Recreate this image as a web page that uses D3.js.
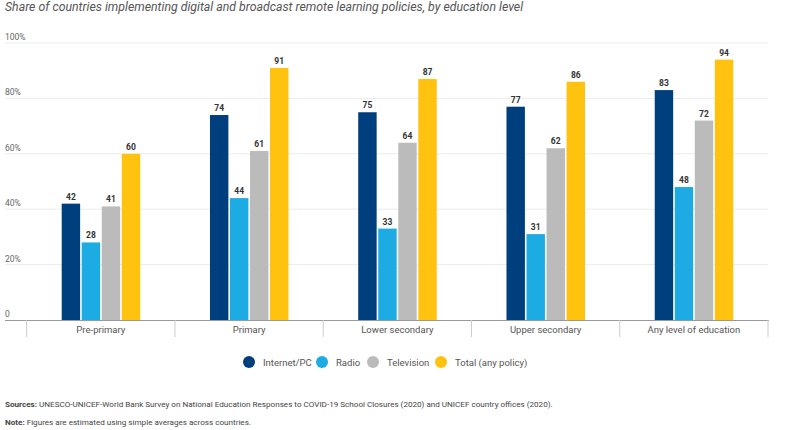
<!DOCTYPE html>
<html><head><meta charset="utf-8">
<script src="https://cdn.jsdelivr.net/npm/d3@7"></script>
<style>
body{margin:0;background:#fff;}
svg{display:block;font-family:Roboto, "Open Sans", sans-serif;}
</style></head>
<body><svg id="c" width="800" height="430"></svg>
<script>
const categories = ["Pre-primary","Primary","Lower secondary","Upper secondary","Any level of education"];
const seriesNames = ["Internet/PC","Radio","Television","Total (any policy)"];
const internetPC = [42,74,75,77,83];
const radio = [28,44,33,31,48];
const television = [41,61,64,62,72];
const totalAny = [60,91,87,86,94];
const yTicks = [0,20,40,60,80,100];
const colors = ["#003f7e","#1cabe2","#bbbbbb","#ffc20e"];
const seriesValues = [internetPC, radio, television, totalAny];

const svg = d3.select("#c");
const x0 = d3.scaleBand().domain(categories).range([26.7, 768]).paddingInner(0).paddingOuter(0);
const x1 = d3.scaleBand().domain(seriesNames).range([35, 113.5]).paddingInner(0.08);
const y = d3.scaleLinear().domain([0,100]).range([320, 43]);

svg.append("text").attr("x",5).attr("y",11).attr("font-size",12.3).attr("font-style","italic")
  .attr("fill","#555").text("Share of countries implementing digital and broadcast remote learning policies, by education level");

// grid
const g = svg.append("g");
yTicks.forEach(t=>{
  if(t>0) g.append("line").attr("x1",5).attr("x2",768).attr("y1",y(t)).attr("y2",y(t)).attr("stroke","#ececec").attr("stroke-width",1);
  g.append("text").attr("x",5).attr("y",y(t)-3).attr("font-size",8.5).attr("fill","#666").text(t===0?"0":t+"%");
});

// bars
categories.forEach((c,ci)=>{
  seriesNames.forEach((s,si)=>{
    const v = seriesValues[si][ci];
    const bx = x0(c)+x1(s);
    svg.append("rect").attr("x",bx).attr("y",y(v)).attr("width",x1.bandwidth()).attr("height",y(0)-y(v))
      .attr("fill",colors[si]);
    svg.append("text").attr("x",bx+x1.bandwidth()/2).attr("y",y(v)-4).attr("text-anchor","middle")
      .attr("font-size",8.5).attr("font-weight","bold").attr("fill","#333").text(v);
  });
});

// x axis
svg.append("line").attr("x1",5).attr("x2",769).attr("y1",320.5).attr("y2",320.5).attr("stroke","#999").attr("stroke-width",1.2);
const bounds = categories.map(c=>x0(c)).concat([x0(categories[categories.length-1])+x0.bandwidth()]);
bounds.forEach(b=>{
  svg.append("line").attr("x1",b).attr("x2",b).attr("y1",320).attr("y2",337).attr("stroke","#ccc").attr("stroke-width",1);
});
categories.forEach(c=>{
  svg.append("text").attr("x",x0(c)+x0.bandwidth()/2).attr("y",332.5).attr("text-anchor","middle")
    .attr("font-size",9.5).attr("fill","#555").text(c);
});

// legend
const legX = [249, 322, 373, 441];
seriesNames.forEach((s,i)=>{
  svg.append("circle").attr("cx",legX[i]).attr("cy",362).attr("r",6).attr("fill",colors[i]);
  svg.append("text").attr("x",legX[i]+14).attr("y",365.5).attr("font-size",9.5).attr("fill","#555").text(s);
});

// footnotes
const f1 = svg.append("text").attr("x",5).attr("y",407).attr("font-size",8.1).attr("fill","#444");
f1.append("tspan").attr("font-weight","bold").text("Sources:");
f1.append("tspan").text(" UNESCO-UNICEF-World Bank Survey on National Education Responses to COVID-19 School Closures (2020) and UNICEF country offices (2020).");
const f2 = svg.append("text").attr("x",5).attr("y",425).attr("font-size",8.1).attr("fill","#444");
f2.append("tspan").attr("font-weight","bold").text("Note:");
f2.append("tspan").text(" Figures are estimated using simple averages across countries.");
</script></body></html>
